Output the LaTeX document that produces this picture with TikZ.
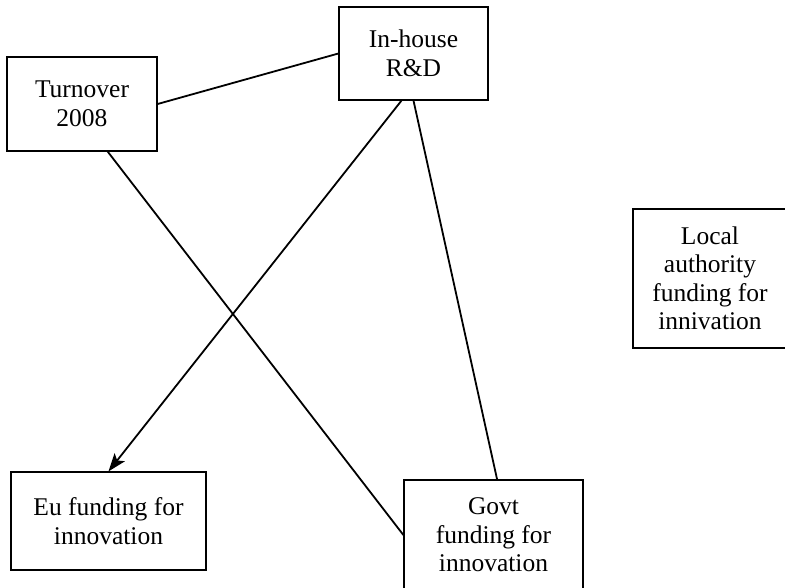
\documentclass[tikz,border=0pt]{standalone}
\usepackage{fontspec}
\setmainfont{Liberation Serif}
\usetikzlibrary{calc}
\usetikzlibrary{arrows.meta}

\begin{document}
\begin{tikzpicture}[x=1pt,y=-1pt,
                    every node/.style={font=\fontsize{25.5}{28.5}\selectfont},
                    var box/.style={draw,line width=1.2pt,align=center,
                                    inner sep=0pt,rectangle},
                    link/.style={line width=1.8pt}]
\useasboundingbox (0,0) rectangle (785,587);
\clip (0,0) rectangle (785,587);
% the five boxes
\node [var box,minimum width=150pt,minimum height=94pt]  (turnover) at (82,104)    {Turnover\\2008};
\node [var box,minimum width=149pt,minimum height=93pt]  (inhouse)  at (413.5,53.5) {In-house\\R\&D};
\node [var box,minimum width=154pt,minimum height=139pt] (local)    at (710,278.5)  {Local\\authority\\funding for\\innivation};
\node [var box,minimum width=195pt,minimum height=98pt]  (eu)       at (108.5,521)  {Eu funding for\\innovation};
\node [var box,minimum width=179pt,minimum height=110pt] (govt)     at (493.5,535)  {Govt\\funding for\\innovation};
%
\draw [link] (turnover.east) -- (inhouse.west);
\draw [link] ($(turnover.south west)!0.67!(turnover.south east)$) -- (govt.west);
\draw [link,-{Stealth[length=18pt,width=13pt,inset=4pt]}]
      ($(inhouse.south west)!0.42!(inhouse.south east)$) -- (eu.north);
\draw [link] (inhouse.south) -- ($(govt.north west)!0.52!(govt.north east)$);
\end{tikzpicture}
\end{document}
